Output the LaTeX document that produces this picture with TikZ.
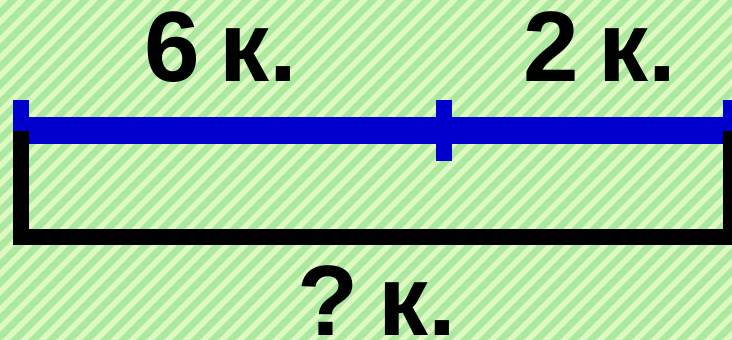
\documentclass[tikz,border=0pt]{standalone}
\usepackage{fontspec}
\setmainfont{Liberation Sans}
\definecolor{bggreen}{HTML}{ACE8A0}
\definecolor{bglight}{HTML}{DEFAC2}
\definecolor{barblue}{HTML}{0000CC}
\newcommand{\gapsp}{\hspace{0.2em}}
\tikzset{
  lbl/.style={anchor=base, inner sep=0pt, font=\fontsize{100}{100}\selectfont\bfseries, text=black},
  stripe/.style={bglight, line width=5.5pt},
}
\begin{document}
\begin{tikzpicture}[x=1pt,y=-1pt]
\useasboundingbox (0,0) rectangle (732,340);
\begin{scope}
\clip (0,0) rectangle (732,340);
\fill[bggreen] (-10,-10) rectangle (742,350);
\foreach \i in {-400,-382,...,820} {
  \draw[stripe] (\i,350) -- (\i+360,-10);
}
% blue bar and ticks
\fill[barblue] (13,117) rectangle (745,144);
\fill[barblue] (13,100) rectangle (29,131);
\fill[barblue] (436,100) rectangle (452,161);
\fill[barblue] (723,100) rectangle (745,131);
% black bracket
\fill[black] (13,131) rectangle (29,245);
\fill[black] (13,229) rectangle (745,245);
\fill[black] (723,131) rectangle (745,245);
\end{scope}
\node[lbl] (a) at (221,81) {6\gapsp к.};
\node[lbl] (b) at (600,81) {2\gapsp к.};
\node[lbl] (c) at (377,335) {?\gapsp к.};
\end{tikzpicture}
\end{document}
